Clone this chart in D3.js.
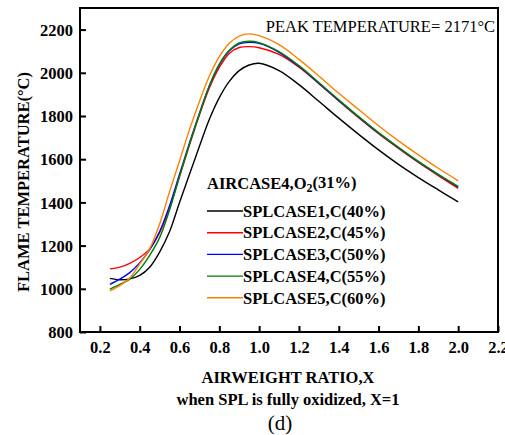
<!DOCTYPE html>
<html>
<head>
<meta charset="utf-8">
<script src="https://cdn.jsdelivr.net/npm/d3@7"></script>
<style>
  body { margin: 0; background: #fff; }
  text { font-family: "Liberation Serif", "Times New Roman", serif; }
</style>
</head>
<body>
<svg id="chart" width="505" height="435"></svg>
<script>
// airweight ratio X, shared by all series
var ratio = [0.25, 0.3, 0.35, 0.4, 0.45, 0.5, 0.55, 0.6, 0.65, 0.7, 0.75, 0.8, 0.85, 0.9, 0.95,
             1.0, 1.1, 1.2, 1.3, 1.4, 1.5, 1.6, 1.7, 1.8, 1.9, 2.0];

var splCase1 = [1048, 1042, 1046, 1062, 1100, 1170, 1265, 1400, 1530, 1660, 1785, 1885, 1960, 2010, 2036,
                2044, 2010, 1945, 1868, 1790, 1715, 1643, 1576, 1515, 1458, 1402];
var splCase2 = [1092, 1100, 1118, 1145, 1185, 1260, 1375, 1520, 1665, 1805, 1930, 2025, 2090, 2117, 2121,
                2116, 2085, 2026, 1950, 1870, 1792, 1718, 1650, 1585, 1524, 1465];
var splCase3 = [1021, 1045, 1075, 1120, 1180, 1265, 1385, 1530, 1675, 1812, 1940, 2038, 2102, 2134, 2141,
                2136, 2095, 2030, 1952, 1872, 1795, 1721, 1653, 1588, 1528, 1471];
var splCase4 = [998, 1020, 1045, 1090, 1155, 1237, 1365, 1520, 1670, 1810, 1940, 2040, 2105, 2138, 2146,
                2140, 2098, 2033, 1955, 1875, 1797, 1723, 1655, 1590, 1530, 1474];
var splCase5 = [991, 1015, 1050, 1115, 1185, 1300, 1450, 1592, 1737, 1867, 1985, 2075, 2137, 2170, 2180,
                2172, 2130, 2062, 1985, 1905, 1830, 1755, 1685, 1620, 1558, 1500];

var seriesNames = ["SPLCASE1,C(40%)", "SPLCASE2,C(45%)", "SPLCASE3,C(50%)", "SPLCASE4,C(55%)", "SPLCASE5,C(60%)"];
var seriesColors = ["#000000", "#ff0000", "#0000ff", "#008000", "#ff8000"];
var seriesValues = [splCase1, splCase2, splCase3, splCase4, splCase5];

var xTicks = [0.2, 0.4, 0.6, 0.8, 1.0, 1.2, 1.4, 1.6, 1.8, 2.0, 2.2];
var yTicks = [800, 1000, 1200, 1400, 1600, 1800, 2000, 2200];

var svg = d3.select("#chart");
var plotLeft = 80, plotRight = 498, plotTop = 8, plotBottom = 332;

var x = d3.scaleLinear().domain([0.1, 2.2]).range([plotLeft, plotRight]);
var y = d3.scaleLinear().domain([800, 2300]).range([plotBottom, plotTop]);

// frame
svg.append("rect")
  .attr("x", plotLeft).attr("y", plotTop)
  .attr("width", plotRight - plotLeft).attr("height", plotBottom - plotTop)
  .attr("fill", "none").attr("stroke", "#000").attr("stroke-width", 2);

var xAxis = svg.append("g")
  .attr("transform", "translate(0," + plotBottom + ")")
  .call(d3.axisBottom(x).tickValues(xTicks).tickFormat(d3.format(".1f")).tickSizeInner(-6).tickSizeOuter(0));
var yAxis = svg.append("g")
  .attr("transform", "translate(" + plotLeft + ",0)")
  .call(d3.axisLeft(y).tickValues(yTicks).tickFormat(d3.format("d")).tickSizeInner(-6).tickSizeOuter(0));

[xAxis, yAxis].forEach(function(g) {
  g.select(".domain").remove();
  g.selectAll(".tick line").attr("stroke", "#000").attr("stroke-width", 2);
  g.selectAll(".tick text")
    .attr("font-family", "Liberation Serif")
    .attr("font-weight", "bold")
    .attr("font-size", 16.5)
    .attr("fill", "#000");
});
xAxis.selectAll(".tick text").attr("y", 9).attr("dy", "0.71em");
yAxis.selectAll(".tick text").attr("x", -7).attr("dy", "0.35em");

// curves
var line = d3.line()
  .x(function(d) { return x(d[0]); })
  .y(function(d) { return y(d[1]); })
  .curve(d3.curveCatmullRom.alpha(0.5));

seriesValues.forEach(function(vals, i) {
  svg.append("path")
    .datum(ratio.map(function(r, j) { return [r, vals[j]]; }))
    .attr("fill", "none")
    .attr("stroke", seriesColors[i])
    .attr("stroke-width", 1.4)
    .attr("d", line);
});

// legend
var legend = svg.append("g").attr("font-weight", "bold").attr("font-size", 16.5);
var title = legend.append("text").attr("x", 207).attr("y", 183).attr("dy", "0.35em");
title.append("tspan").text("AIRCASE4,O");
title.append("tspan").attr("font-size", 12).attr("dy", "0.3em").text("2");
title.append("tspan").attr("dy", "-0.25em").text("(31%)");

seriesNames.forEach(function(name, i) {
  var ly = 211 + i * 21.7;
  legend.append("line")
    .attr("x1", 207).attr("x2", 243).attr("y1", ly).attr("y2", ly)
    .attr("stroke", seriesColors[i]).attr("stroke-width", 1.4);
  legend.append("text").attr("x", 243).attr("y", ly).attr("dy", "0.35em").text(name);
});

// annotations and titles
svg.append("text")
  .attr("x", 495).attr("y", 26).attr("dy", "0.35em")
  .attr("text-anchor", "end").attr("font-size", 16.5)
  .text("PEAK TEMPERATURE= 2171\u00b0C");

svg.append("text")
  .attr("transform", "translate(23,182) rotate(-90)")
  .attr("text-anchor", "middle").attr("dy", "0.35em")
  .attr("font-weight", "bold").attr("font-size", 16.5)
  .text("FLAME TEMPERATURE(\u00b0C)");

svg.append("text")
  .attr("x", 288).attr("y", 377).attr("dy", "0.35em")
  .attr("text-anchor", "middle").attr("font-weight", "bold").attr("font-size", 16.5)
  .text("AIRWEIGHT RATIO,X");

svg.append("text")
  .attr("x", 288).attr("y", 399).attr("dy", "0.35em")
  .attr("text-anchor", "middle").attr("font-weight", "bold").attr("font-size", 16.5)
  .text("when SPL is fully oxidized, X=1");

svg.append("text")
  .attr("x", 280).attr("y", 423).attr("dy", "0.35em")
  .attr("text-anchor", "middle").attr("font-size", 21)
  .text("(d)");
</script>
</body>
</html>
